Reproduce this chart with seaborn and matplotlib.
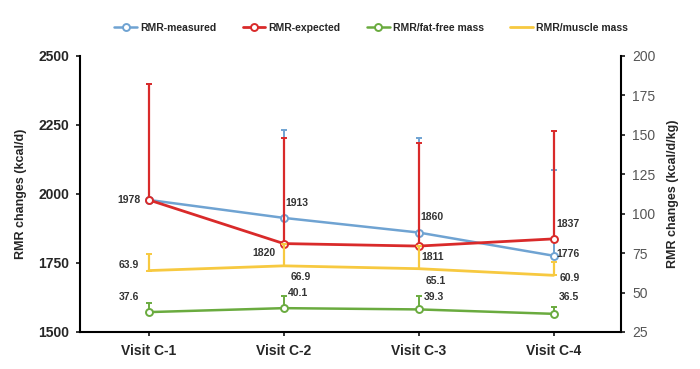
import numpy as np
import pandas as pd
import matplotlib
matplotlib.use('Agg')
import matplotlib.pyplot as plt
import seaborn as sns
from matplotlib.lines import Line2D

visits = ['Visit C-1', 'Visit C-2', 'Visit C-3', 'Visit C-4']

# left axis (kcal/d)
rmr_measured = [1978, 1913, 1860, 1776]
rmr_measured_err = [418, 318, 342, 310]
rmr_expected = [1978, 1820, 1811, 1837]
rmr_expected_err = [418, 381, 372, 390]

# right axis (kcal/d/kg)
rmr_ffm = [37.6, 40.1, 39.3, 36.5]
rmr_ffm_err = [5.7, 7.9, 8.7, 4.6]
rmr_muscle = [63.9, 66.9, 65.1, 60.9]
rmr_muscle_err = [10.6, 14.1, 14.4, 8.3]

blue = '#6fa3d2'
red = '#d92a2a'
green = '#6aab3f'
yellow = '#f7c940'

sns.set_theme(style='white')
plt.rcParams['font.family'] = ['Liberation Sans', 'DejaVu Sans']

df = pd.DataFrame({'visit': visits, 'x': np.arange(4),
                   'measured': rmr_measured, 'expected': rmr_expected,
                   'ffm': rmr_ffm, 'muscle': rmr_muscle})

fig = plt.figure(figsize=(7, 3.69), dpi=100)
ax = fig.add_axes([0.1143, 0.1003, 0.7729, 0.7487])
ax2 = ax.twinx()

mk = dict(marker='o', markersize=5, markerfacecolor='white', markeredgewidth=1.4)

# left axis series
ax.errorbar(df['x'], df['measured'], yerr=[np.zeros(4), rmr_measured_err],
            fmt='none', ecolor=blue, elinewidth=1.4, capsize=2, capthick=1.4, zorder=2)
sns.lineplot(data=df, x='x', y='measured', ax=ax, color=blue, linewidth=1.8,
             markeredgecolor=blue, zorder=3, **mk)
ax.errorbar(df['x'], df['expected'], yerr=[np.zeros(4), rmr_expected_err],
            fmt='none', ecolor=red, elinewidth=1.6, capsize=2, capthick=1.4, zorder=4)
sns.lineplot(data=df, x='x', y='expected', ax=ax, color=red, linewidth=2,
             markeredgecolor=red, zorder=5, **mk)

# right axis series
ax2.errorbar(df['x'], df['muscle'], yerr=[np.zeros(4), rmr_muscle_err],
             fmt='none', ecolor=yellow, elinewidth=1.6, capsize=2, capthick=1.4, zorder=2)
sns.lineplot(data=df, x='x', y='muscle', ax=ax2, color=yellow, linewidth=2, zorder=3)
ax2.errorbar(df['x'], df['ffm'], yerr=[np.zeros(4), rmr_ffm_err],
             fmt='none', ecolor=green, elinewidth=1.4, capsize=2, capthick=1.4, zorder=4)
sns.lineplot(data=df, x='x', y='ffm', ax=ax2, color=green, linewidth=1.8,
             markeredgecolor=green, zorder=5, **mk)

ax.set_xlim(-0.51, 3.5)
ax.set_ylim(1500, 2500)
ax2.set_ylim(25, 200)
ax.set_yticks([1500, 1750, 2000, 2250, 2500])
ax2.set_yticks([25, 50, 75, 100, 125, 150, 175, 200])
ax.set_xticks(range(4))
ax.set_xticklabels(visits, fontsize=10, fontweight='bold')
ax.set_xlabel('')
ax2.set_xlabel('')

for a in (ax, ax2):
    a.spines['top'].set_visible(False)
    for s in ('left', 'right', 'bottom'):
        a.spines[s].set_color('black')
        a.spines[s].set_linewidth(1.5)
ax.spines['right'].set_visible(False)
ax2.spines['left'].set_visible(False)
ax2.spines['bottom'].set_visible(False)

ax.tick_params(axis='y', direction='out', length=3, width=1.3, labelsize=10, pad=5, left=True)
ax.tick_params(axis='x', direction='out', length=3, width=1.3, pad=6, bottom=True)
ax2.tick_params(axis='y', direction='out', length=3, width=1.3, labelsize=10,
                labelcolor='#555555', pad=5, right=True)
for t in ax.get_yticklabels():
    t.set_fontweight('bold')

ax.set_ylabel('RMR changes (kcal/d)', fontsize=9, fontweight='bold', labelpad=8)
ax2.set_ylabel('RMR changes (kcal/d/kg)', fontsize=9, fontweight='bold', labelpad=8)

lab = dict(textcoords='offset points', fontsize=7.5, fontweight='bold', color='#333333')
# offsets in points
off_measured = [None, (1, 11), (1, 11), (2, 1)]
off_expected = [(-6, 0), (-6, -7), (2, -8), (2, 11)]
off_muscle = [(-7, 4), (5, -8), (5, -9), (4, -2)]
off_ffm = [(-7, 11), (3, 11), (4, 9), (4, 12)]

for i in range(4):
    if off_measured[i] is not None:
        ax.annotate(str(rmr_measured[i]), (i, rmr_measured[i]), xytext=off_measured[i],
                    ha='left', va='center', **lab)
    dx, dy = off_expected[i]
    ax.annotate(str(rmr_expected[i]), (i, rmr_expected[i]), xytext=(dx, dy),
                ha='right' if dx < 0 else 'left', va='center', **lab)
    dx, dy = off_muscle[i]
    ax2.annotate(f'{rmr_muscle[i]:.1f}', (i, rmr_muscle[i]), xytext=(dx, dy),
                 ha='right' if dx < 0 else 'left', va='center', **lab)
    dx, dy = off_ffm[i]
    ax2.annotate(f'{rmr_ffm[i]:.1f}', (i, rmr_ffm[i]), xytext=(dx, dy),
                 ha='right' if dx < 0 else 'left', va='center', **lab)

handles = [
    Line2D([], [], color=blue, linewidth=1.8, **mk, markeredgecolor=blue),
    Line2D([], [], color=red, linewidth=2, **mk, markeredgecolor=red),
    Line2D([], [], color=green, linewidth=1.8, **mk, markeredgecolor=green),
    Line2D([], [], color=yellow, linewidth=2),
]
fig.legend(handles, ['RMR-measured', 'RMR-expected', 'RMR/fat-free mass', 'RMR/muscle mass'],
           loc='center', bbox_to_anchor=(0.53, 0.925), ncol=4, frameon=False,
           prop={'size': 7.5, 'weight': 'bold'}, handlelength=2.2, handletextpad=0.3,
           columnspacing=2.5)

fig.savefig('out.png', dpi=100)
